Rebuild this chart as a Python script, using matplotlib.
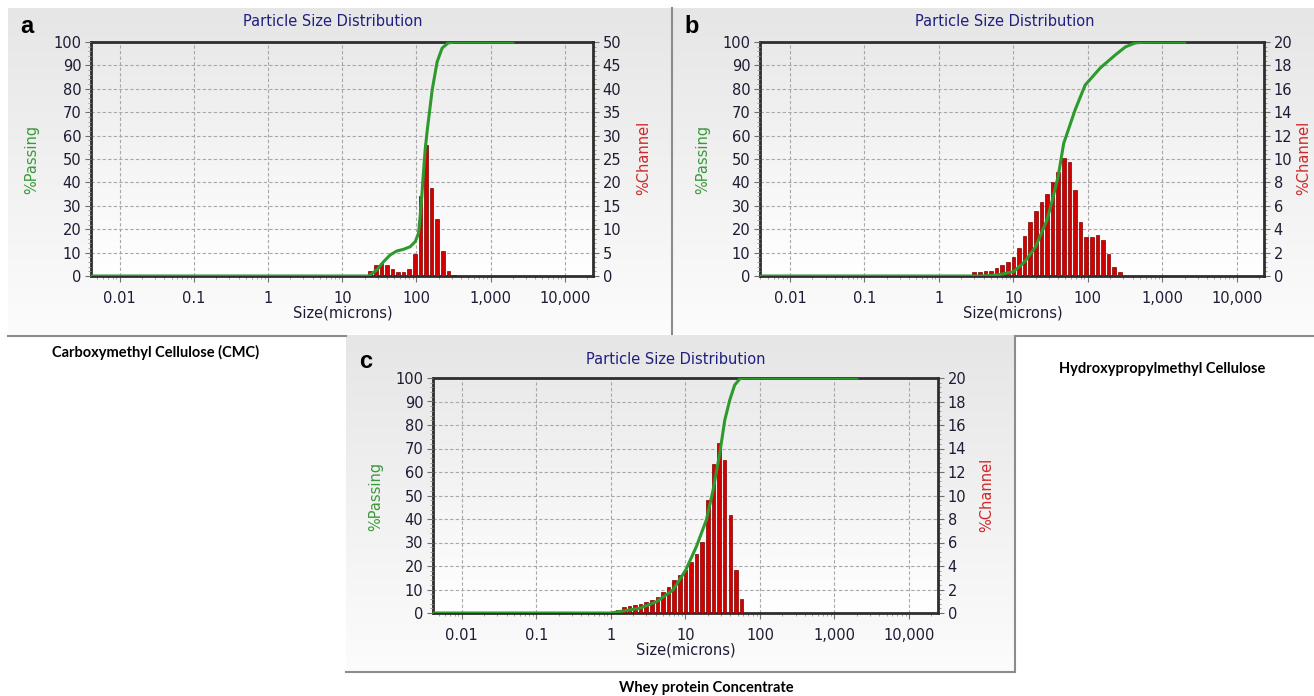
import numpy as np
import matplotlib.pyplot as plt
import matplotlib.ticker as ticker
from matplotlib.colors import LinearSegmentedColormap
from matplotlib.lines import Line2D

W, H = 1314, 696

# channel sizes (microns) and %channel for each sample
a_size = [23.8, 28.3, 33.6, 40.0, 47.6, 56.6, 67.3, 80.0, 95.1, 113.1, 134.5, 160.0,
          190.3, 226.3, 269.1, 320.0]
a_chan = [1.07, 2.35, 2.85, 2.28, 1.42, 0.78, 0.78, 1.42, 4.6, 17.2, 28.0, 18.7,
          12.1, 5.4, 1.07, 0.15]

b_size = [2.97, 3.54, 4.20, 5.0, 5.95, 7.07, 8.41, 10.0, 11.9, 14.1, 16.8, 20.0, 23.8,
          28.3, 33.6, 40.0, 47.6, 56.6, 67.3, 80.0, 95.1, 113.1, 134.5, 160.0, 190.3,
          226.3, 269.1]
b_chan = [0.31, 0.31, 0.4, 0.43, 0.71, 0.91, 1.17, 1.6, 2.42, 3.45, 4.62, 5.58, 6.32,
          6.98, 8.06, 8.86, 10.06, 9.77, 7.35, 4.59, 3.31, 3.31, 3.53, 3.1, 1.85,
          0.8, 0.31]

c_size = [1.25, 1.49, 1.77, 2.10, 2.50, 2.97, 3.54, 4.20, 5.0, 5.95, 7.07, 8.41, 10.0,
          11.9, 14.1, 16.8, 20.0, 23.8, 28.3, 33.6, 40.0, 47.6, 56.6]
c_chan = [0.23, 0.48, 0.6, 0.65, 0.77, 0.91, 1.1, 1.33, 1.82, 2.24, 2.81, 3.23, 3.66,
          4.37, 5.02, 6.07, 9.62, 12.65, 14.5, 13.0, 8.34, 3.66, 1.16]

# cumulative %passing curves
a_psize = [0.0041, 20, 22.6, 29.3, 36.0, 44.2, 54.5, 66.9, 82.2, 96.3, 106.6, 112, 118,
           124, 131, 140, 163, 190, 222, 267, 330, 2000]
a_pass = [0, 0, 0, 2.6, 6.1, 9.0, 10.7, 11.4, 12.5, 14.7, 18.2, 25.3, 33.9, 43.9,
          53.8, 62.4, 79.5, 91.5, 97.4, 99.6, 100, 100]

b_psize = [0.004, 3.0, 3.6, 6.0, 10.0, 14.2, 19.9, 28.3, 33.4, 39.9, 47.5, 67.6, 92.2,
           147, 233, 320, 436, 595, 2000]
b_pass = [0, 0, 0, 0.4, 1.8, 6.1, 12.5, 23.9, 32.5, 42.4, 56.7, 71, 81.6, 88.9,
          94.4, 97.9, 99.6, 100, 100]

c_psize = [0.0041, 1.0, 1.19, 2.43, 4.08, 6.82, 10.1, 14.0, 19.1, 23.5, 28.9, 33.7,
           39.3, 45.8, 53.5, 60, 2000]
c_pass = [0, 0, 0.4, 2.0, 4.8, 9.8, 18.3, 28.2, 39.6, 52.3, 68, 82, 90.6, 97, 99.6,
          100, 100]

x_ticks = [0.01, 0.1, 1, 10, 100, 1000, 10000]
x_labels = ['0.01', '0.1', '1', '10', '100', '1,000', '10,000']

TXT = '#1c1c34'
GREEN = '#2e9a2e'
RED = '#d40000'

fig = plt.figure(figsize=(W / 100, H / 100), dpi=100)
fig.patch.set_facecolor('white')


def frac(x0, y0, x1, y1):
    return [x0 / W, 1 - y1 / H, (x1 - x0) / W, (y1 - y0) / H]


def gradient(box, top, bottom):
    ax = fig.add_axes(frac(*box))
    ax.axis('off')
    cmap = LinearSegmentedColormap.from_list('g', [top, bottom])
    ax.imshow(np.linspace(0, 1, 256)[:, None], aspect='auto', cmap=cmap,
              extent=[0, 1, 0, 1])


def ftext(x, y, s, **kw):
    fig.text(x / W, 1 - y / H, s, **kw)


def hline(x0, x1, y):
    fig.add_artist(Line2D([x0 / W, x1 / W], [1 - y / H, 1 - y / H],
                          transform=fig.transFigure, color='#8c8c8c', lw=1.5))


def vline(x, y0, y1):
    fig.add_artist(Line2D([x / W, x / W], [1 - y0 / H, 1 - y1 / H],
                          transform=fig.transFigure, color='#8c8c8c', lw=1.5))


def panel(bg, box, sizes, chan, psize, ppct, ymax, ystep, xlim, letter, lpos,
          tpos, plpos, chpos, xlpos):
    gradient(bg, '#e6e6e6', '#fcfcfc')
    gradient(box, '#eaeaea', '#ffffff')

    ax = fig.add_axes(frac(*box))
    ax.patch.set_visible(False)
    ax.set_xscale('log')

    # bars span part of each channel in log space
    f = 2 ** (0.25 * 0.32)
    s = np.array(sizes)
    ax.bar(s / f, chan, width=s * f - s / f, align='edge', color=RED,
           edgecolor='#7a0000', linewidth=0.5, zorder=3)

    ax.set_xlim(*xlim)
    ax.set_ylim(0, ymax)
    ax.xaxis.set_major_locator(ticker.FixedLocator(x_ticks))
    ax.xaxis.set_major_formatter(ticker.FixedFormatter(x_labels))
    ax.xaxis.set_minor_locator(ticker.LogLocator(subs=(2, 3, 4, 5, 6, 7, 8, 9), numticks=20))
    ax.xaxis.set_minor_formatter(ticker.NullFormatter())
    ax.yaxis.set_major_locator(ticker.MultipleLocator(ystep))
    ax.yaxis.set_minor_locator(ticker.AutoMinorLocator(5))
    ax.grid(which='major', color='#a8a8a8', linestyle=(0, (3, 2)), linewidth=0.8,
            zorder=1)

    ax2 = ax.twinx()
    ax2.plot(psize, ppct, color=GREEN, linewidth=2.2, zorder=4)
    ax2.set_ylim(0, 100)
    ax2.yaxis.set_major_locator(ticker.MultipleLocator(10))
    ax2.yaxis.set_minor_locator(ticker.AutoMinorLocator(5))
    ax.yaxis.tick_right()
    ax2.yaxis.tick_left()
    for sp in ax2.spines.values():
        sp.set_visible(False)
    for sp in ax.spines.values():
        sp.set_linewidth(2)
        sp.set_color('#2e2e2e')

    for a in (ax, ax2):
        a.tick_params(which='major', direction='out', length=4, width=0.8,
                      color='#707070', labelsize=10.5, labelcolor=TXT, pad=3)
        a.tick_params(which='minor', direction='out', length=2, width=0.6,
                      color='#909090')
    ax.tick_params(axis='x', which='major', pad=7)

    ftext(*tpos, 'Particle Size Distribution', color='#1f1f80', fontsize=10.5,
          ha='center', va='center')
    ftext(*xlpos, 'Size(microns)', color=TXT, fontsize=10.5, ha='center', va='center')
    ftext(*plpos, '%Passing', color='#3a9a3a', fontsize=10.5, rotation=90,
          ha='center', va='center')
    ftext(*chpos, '%Channel', color='#d02828', fontsize=10.5, rotation=90,
          ha='center', va='center')
    ftext(*lpos, letter, color='black', fontsize=17, fontweight='bold',
          family='Liberation Sans', ha='center', va='baseline')


panel((8, 8, 672, 334), (91, 42, 593, 276), a_size, a_chan, a_psize, a_pass, 50, 5,
      (0.0041, 24000), 'a', (27, 33), (333, 22), (32, 159), (644, 158), (343, 313))
panel((673, 8, 1314, 334), (760, 42, 1264, 276), b_size, b_chan, b_psize, b_pass, 20, 2,
      (0.00395, 23300), 'b', (692, 33), (1005, 22), (703, 159), (1304, 158), (1013, 313))
panel((346, 335, 1015, 672), (433, 378, 938, 613), c_size, c_chan, c_psize, c_pass, 20, 2,
      (0.0041, 24500), 'c', (366, 368), (676, 359), (376, 496), (987, 495), (686, 650))

# panel borders
vline(672, 8, 334)
hline(8, 346, 336)
hline(1015, 1314, 336)
vline(1015, 336, 672)
hline(346, 1015, 672)

cap = dict(fontsize=10.5, fontweight='bold', family='Lato', color='black', va='center')
ftext(52, 352, 'Carboxymethyl Cellulose (CMC)', ha='left', **cap)
ftext(1059, 369, 'Hydroxypropylmethyl Cellulose', ha='left', **cap)
ftext(706, 688, 'Whey protein Concentrate', ha='center', **cap)

fig.savefig('out.png', dpi=100)
